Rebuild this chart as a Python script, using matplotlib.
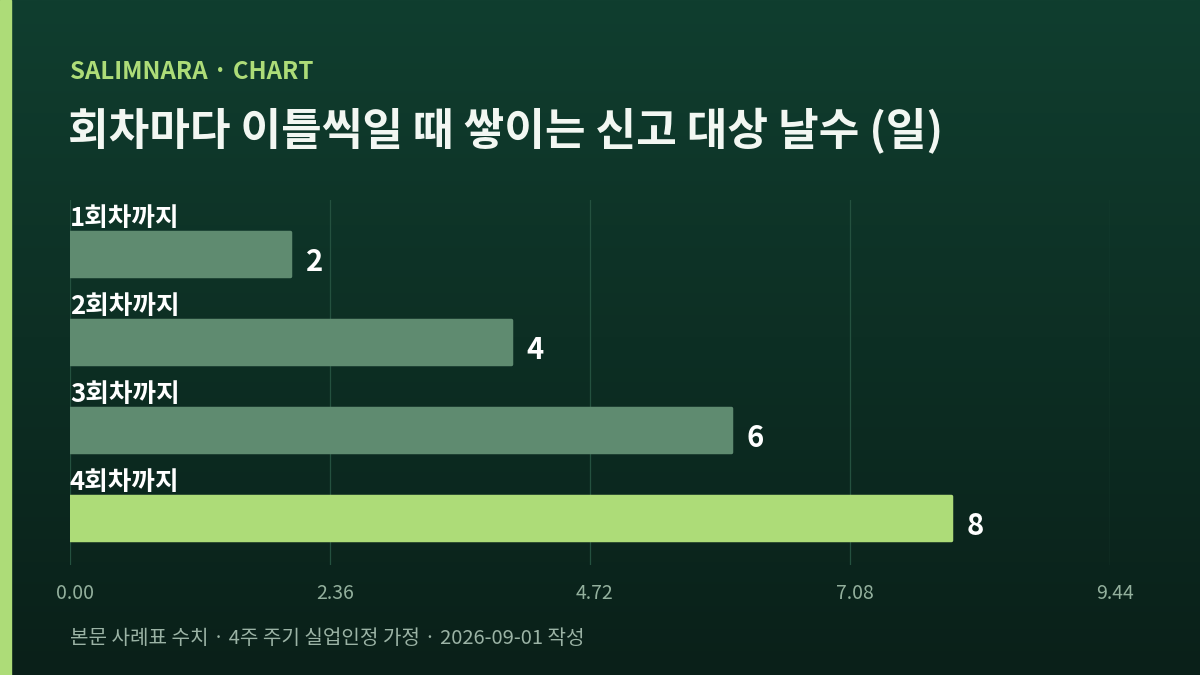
import numpy as np
import matplotlib.pyplot as plt
import matplotlib.transforms as mtransforms
from matplotlib.colors import LinearSegmentedColormap

plt.rcParams['font.family'] = ['Noto Sans CJK KR', 'DejaVu Sans']

# data
categories = ['1회차까지', '2회차까지', '3회차까지', '4회차까지']
values = [2, 4, 6, 8]
tick_values = [0.00, 2.36, 4.72, 7.08, 9.44]

kicker = 'SALIMNARA · CHART'
title = '회차마다 이틀씩일 때 쌓이는 신고 대상 날수 (일)'
footnote = '본문 사례표 수치 · 4주 주기 실업인정 가정 · 2026-09-01 작성'

bar_dim = '#5f8b70'
bar_hi = '#addc78'
accent = '#addc78'

fig = plt.figure(figsize=(12, 6.75), dpi=100)

# background gradient + left stripe
bg = fig.add_axes([0, 0, 1, 1], zorder=-10)
cmap = LinearSegmentedColormap.from_list('bg', ['#103e2f', '#0a2019'])
grad = np.linspace(0, 1, 256).reshape(-1, 1)
bg.imshow(grad, aspect='auto', cmap=cmap, extent=[0, 1, 0, 1], origin='upper')
bg.axvspan(0, 11 / 1200, color=accent)
bg.set_xlim(0, 1)
bg.set_ylim(0, 1)
bg.axis('off')

ax = fig.add_axes([70 / 1200, 1 - 565 / 675, 1040 / 1200, 365 / 675])
ax.patch.set_alpha(0)

ypos = np.arange(len(categories))
colors = [bar_dim] * (len(values) - 1) + [bar_hi]
bh = 0.5
bars = ax.barh(ypos, values, height=bh, color=colors, edgecolor=colors, linewidth=2.5, zorder=3)
for b in bars:
    b.set_joinstyle('round')

ax.set_xlim(0, tick_values[-1])
ax.set_ylim(3.534, -0.614)
ax.set_xticks(tick_values)
ax.set_xticklabels([f'{t:.2f}' for t in tick_values])
ax.set_yticks([])
ax.tick_params(axis='x', length=0, pad=13, labelsize=14, labelcolor='#93b09d')
shift = mtransforms.ScaledTranslation(5 / 100, 0, fig.dpi_scale_trans)
for lbl in ax.get_xticklabels():
    lbl.set_transform(lbl.get_transform() + shift)
ax.grid(axis='x', color='#24513f', linewidth=0.9, zorder=0)
for s in ax.spines.values():
    s.set_visible(False)

for y, v, c in zip(ypos, values, categories):
    ax.annotate(c, (0, y - bh / 2), xytext=(0, 0), textcoords='offset points',
                ha='left', va='bottom', fontsize=18.5, fontweight='bold', color='white')
    ax.annotate(str(v), (v, y), xytext=(11, -6), textcoords='offset points',
                ha='left', va='center', fontsize=21, fontweight='bold', color='white')

fig.text(70 / 1200, 1 - 72 / 675, kicker, ha='left', va='center',
         fontsize=17.3, fontweight='bold', color=accent)
fig.text(68 / 1200, 1 - 131 / 675, title, ha='left', va='center',
         fontsize=31.8, fontweight='bold', color='#f2f7f2')
fig.text(70 / 1200, 1 - 638 / 675, footnote, ha='left', va='center',
         fontsize=14.5, color='#9bb3a5')

fig.savefig('out.png', dpi=100)
